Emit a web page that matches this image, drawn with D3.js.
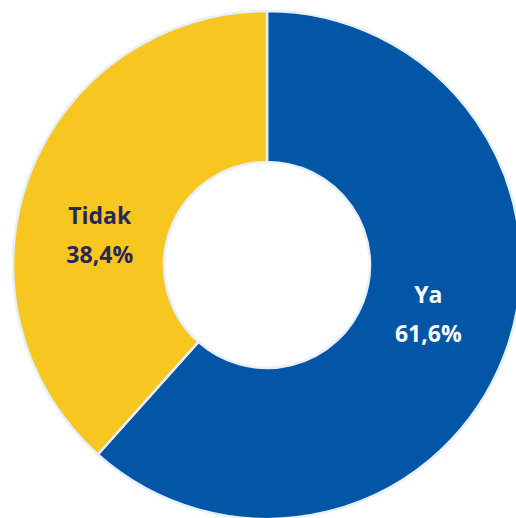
<!DOCTYPE html>
<html>
<head>
<meta charset="utf-8">
<script src="https://cdn.jsdelivr.net/npm/d3@7"></script>
<style>
  html, body { margin: 0; padding: 0; background: #fff; }
  svg { display: block; }
</style>
</head>
<body>
<div id="chart"></div>
<script>
// data
const labels = ["Ya", "Tidak"]
const values = [61.6, 38.4]
const colors = ["#0355a6", "#f8c621"]
const textColors = ["#ffffff", "#27275a"]

const width = 516
const height = 518
const cx = 267
const cy = 265
const outerR = 254
const innerR = 103

const svg = d3.select("#chart")
  .append("svg")
    .attr("width", width)
    .attr("height", height)

const g = svg.append("g")
  .attr("transform", `translate(${cx},${cy})`)

const slices = labels.map((l, i) => ({ label: l, value: values[i], i }))

const pie = d3.pie()
  .value(d => d.value)
  .sort(null)

const arc = d3.arc()
  .innerRadius(innerR)
  .outerRadius(outerR)

const labelArc = d3.arc()
  .innerRadius((innerR + outerR) / 2)
  .outerRadius((innerR + outerR) / 2)

const arcs = pie(slices)

g.selectAll("path")
  .data(arcs)
  .join("path")
    .attr("d", arc)
    .attr("fill", d => colors[d.data.i])
    .attr("stroke", "#e5f0fb")
    .attr("stroke-width", 2.5)
    .attr("stroke-linejoin", "round")

// labels: pulled a bit toward the middle line
const lab = g.selectAll("g.lab")
  .data(arcs)
  .join("g")
    .attr("class", "lab")
    .attr("transform", d => {
      const [x, y] = labelArc.centroid(d)
      return `translate(${x * 0.985 - 3},${y * 0.62 + 10})`
    })

lab.append("text")
  .attr("y", -19.5)
  .attr("dy", "0.35em")
  .attr("text-anchor", "middle")
  .style("font-family", "'Open Sans', 'Noto Sans', sans-serif")
  .style("font-weight", 700)
  .style("font-size", "23px")
  .attr("fill", d => textColors[d.data.i])
  .text(d => d.data.label)

lab.append("text")
  .attr("y", 19.5)
  .attr("dy", "0.35em")
  .attr("text-anchor", "middle")
  .style("font-family", "'Open Sans', 'Noto Sans', sans-serif")
  .style("font-weight", 700)
  .style("font-size", "23px")
  .attr("fill", d => textColors[d.data.i])
  .text(d => d.data.value.toFixed(1).replace(".", ",") + "%")
</script>
</body>
</html>
